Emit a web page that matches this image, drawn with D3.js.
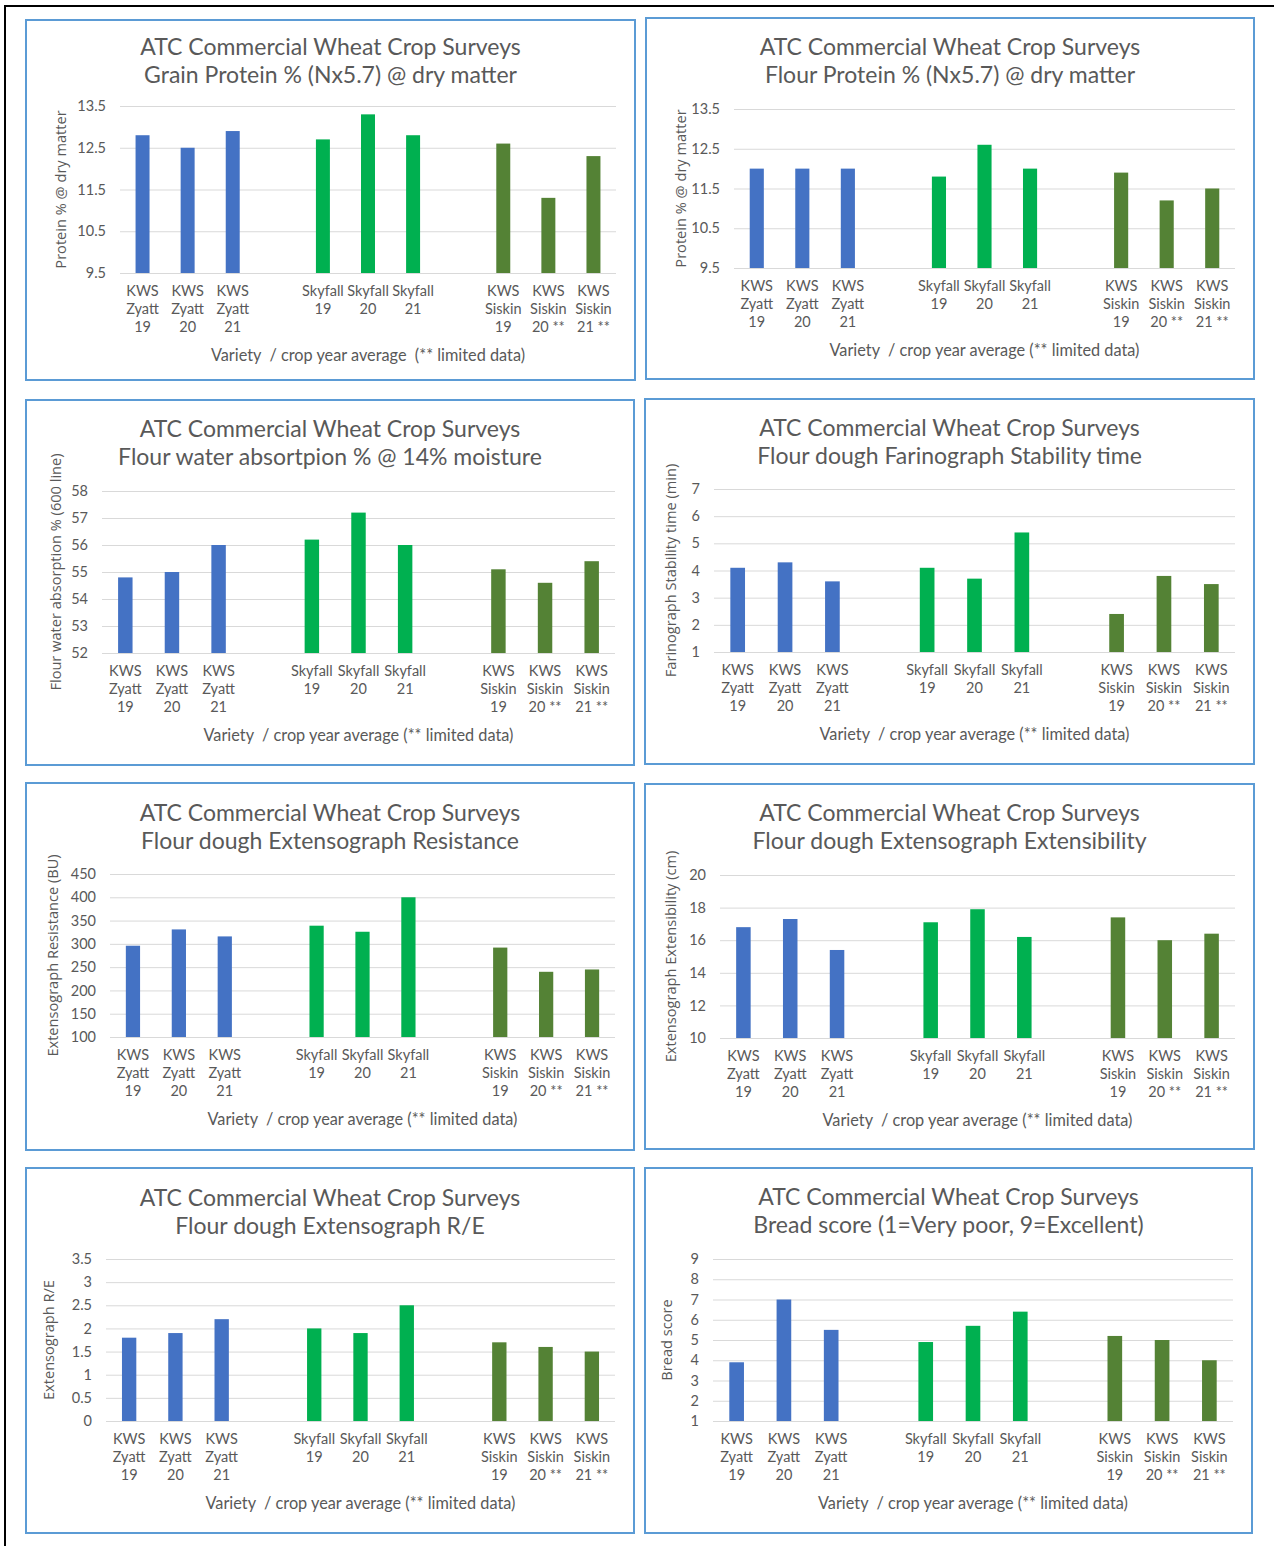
<!DOCTYPE html>
<html lang="en">
<head>
    <meta charset="utf-8">
    <title>ATC Commercial Wheat Crop Surveys</title>
    <script src="https://d3js.org/d3.v7.min.js"></script>
    <style>
        body { margin: 0; background: #fff; }
        text { font-family: Lato, "Open Sans", sans-serif; fill: #595959; }
        .ytitle { font-family: "Open Sans", sans-serif; }
    </style>
</head>
<body>
<div id="charts"></div>
<script>
// Categories (9 bars) and the label lines under each bar
const categories = ["KWS Zyatt 19", "KWS Zyatt 20", "KWS Zyatt 21",
                    "Skyfall 19", "Skyfall 20", "Skyfall 21",
                    "KWS Siskin 19", "KWS Siskin 20 **", "KWS Siskin 21 **"];
const labelLines = [["KWS", "Zyatt", "19"], ["KWS", "Zyatt", "20"], ["KWS", "Zyatt", "21"],
                    ["Skyfall", "19"], ["Skyfall", "20"], ["Skyfall", "21"],
                    ["KWS", "Siskin", "19"], ["KWS", "Siskin", "20 **"], ["KWS", "Siskin", "21 **"]];
// x slots including the two empty gaps between varieties
const slots = ["KWS Zyatt 19", "KWS Zyatt 20", "KWS Zyatt 21", "gap1",
               "Skyfall 19", "Skyfall 20", "Skyfall 21", "gap2",
               "KWS Siskin 19", "KWS Siskin 20 **", "KWS Siskin 21 **"];
const varietyOf = ["Zyatt", "Zyatt", "Zyatt", "Skyfall", "Skyfall", "Skyfall", "Siskin", "Siskin", "Siskin"];

// series values
const grainProtein  = [12.8, 12.5, 12.9, 12.7, 13.3, 12.8, 12.6, 11.3, 12.3];
const flourProtein  = [12.0, 12.0, 12.0, 11.8, 12.6, 12.0, 11.9, 11.2, 11.5];
const waterAbs      = [54.8, 55.0, 56.0, 56.2, 57.2, 56.0, 55.1, 54.6, 55.4];
const stability     = [4.1, 4.3, 3.6, 4.1, 3.7, 5.4, 2.4, 3.8, 3.5];
const resistance    = [296, 331, 316, 339, 326, 400, 292, 240, 245];
const extensibility = [16.8, 17.3, 15.4, 17.1, 17.9, 16.2, 17.4, 16.0, 16.4];
const ratioRE       = [1.8, 1.9, 2.2, 2.0, 1.9, 2.5, 1.7, 1.6, 1.5];
const breadScore    = [3.9, 7.0, 5.5, 4.9, 5.7, 6.4, 5.2, 5.0, 4.0];

// y tick labels per chart
const ticksProtein = [9.5, 10.5, 11.5, 12.5, 13.5];
const ticksWater   = [52, 53, 54, 55, 56, 57, 58];
const ticksStab    = [1, 2, 3, 4, 5, 6, 7];
const ticksResist  = [100, 150, 200, 250, 300, 350, 400, 450];
const ticksExt     = [10, 12, 14, 16, 18, 20];
const ticksRE      = [0, 0.5, 1, 1.5, 2, 2.5, 3, 3.5];
const ticksBread   = [1, 2, 3, 4, 5, 6, 7, 8, 9];

const mainTitle = "ATC Commercial Wheat Crop Surveys";
const subTitles = ["Grain Protein % (Nx5.7) @ dry matter",
                   "Flour Protein % (Nx5.7) @ dry matter",
                   "Flour water absortpion % @ 14% moisture",
                   "Flour dough Farinograph Stability time",
                   "Flour dough Extensograph Resistance",
                   "Flour dough Extensograph Extensibility",
                   "Flour dough Extensograph R/E",
                   "Bread score (1=Very poor, 9=Excellent)"];
const yTitles = ["Protein % @ dry matter", "Protein % @ dry matter",
                 "Flour water absorption % (600 line)", "Farinograph Stability time (min)",
                 "Extensograph Resistance (BU)", "Extensograph Extensibility (cm)",
                 "Extensograph R/E", "Bread score"];
const xTitles = ["Variety  / crop year average  (** limited data)",
                 "Variety  / crop year average (** limited data)"];

const colors = {Zyatt: "#4472C4", Skyfall: "#00B050", Siskin: "#548235"};

// chart list built from the arrays above
const charts = [
    {values: grainProtein,  ticks: ticksProtein, sub: 0, xt: 0},
    {values: flourProtein,  ticks: ticksProtein, sub: 1, xt: 1},
    {values: waterAbs,      ticks: ticksWater,   sub: 2, xt: 1},
    {values: stability,     ticks: ticksStab,    sub: 3, xt: 1},
    {values: resistance,    ticks: ticksResist,  sub: 4, xt: 1},
    {values: extensibility, ticks: ticksExt,     sub: 5, xt: 1},
    {values: ratioRE,       ticks: ticksRE,      sub: 6, xt: 1},
    {values: breadScore,    ticks: ticksBread,   sub: 7, xt: 1}
];

// panel placement on the page
const panels = [
    {x: 26,  y: 20,   w: 609, h: 360, left: 94, top: 86, bottom: 253, ytx: 34, tt: 26},
    {x: 646, y: 18,   w: 608, h: 361, left: 88, top: 91, bottom: 250, ytx: 34, tt: 28},
    {x: 26,  y: 400,  w: 608, h: 365, left: 76, top: 91, bottom: 253, ytx: 29, tt: 28},
    {x: 645, y: 399,  w: 609, h: 365, left: 69, top: 90, bottom: 253, ytx: 25, tt: 28},
    {x: 26,  y: 783,  w: 608, h: 367, left: 84, top: 91, bottom: 254, ytx: 26, tt: 29},
    {x: 645, y: 784,  w: 609, h: 365, left: 75, top: 91, bottom: 254, ytx: 25, tt: 28},
    {x: 26,  y: 1168, w: 608, h: 365, left: 80, top: 91, bottom: 253, ytx: 22, tt: 29},
    {x: 645, y: 1168, w: 607, h: 365, left: 68, top: 91, bottom: 253, ytx: 21, tt: 28}
];

let svg = d3.select("#charts")
            .append("svg")
            .attr("width", 1274)
            .attr("height", 1546)
            .style("display", "block");

// outer black frame (only top and left edges are visible)
svg.append("rect")
    .attr("x", 5).attr("y", 6)
    .attr("width", 1400).attr("height", 1700)
    .attr("fill", "none")
    .attr("stroke", "#000")
    .attr("stroke-width", 2);

charts.forEach(function(c, i) {
    drawChart(svg, c, panels[i]);
});

function drawChart(svg, c, p) {
    let g = svg.append("g").attr("transform", "translate(" + p.x + "," + p.y + ")");

    g.append("rect")
        .attr("width", p.w).attr("height", p.h)
        .attr("fill", "#fff")
        .attr("stroke", "#5B9BD5")
        .attr("stroke-width", 2);

    // titles
    g.append("text")
        .attr("x", p.w / 2).attr("y", p.tt)
        .attr("text-anchor", "middle").attr("dominant-baseline", "central")
        .style("font-size", "23px")
        .text(mainTitle);
    g.append("text")
        .attr("x", p.w / 2).attr("y", p.tt + 28)
        .attr("text-anchor", "middle").attr("dominant-baseline", "central")
        .style("font-size", "23px")
        .text(subTitles[c.sub]);

    let right = p.w - 19;

    let xScale = d3.scaleBand()
                    .domain(slots)
                    .range([p.left, right])
                    .paddingInner(0.69)
                    .paddingOuter(0.345);

    let yScale = d3.scaleLinear()
                    .domain(d3.extent(c.ticks))
                    .range([p.bottom, p.top]);

    // gridlines + tick labels via axisLeft
    let yAxis = d3.axisLeft(yScale)
                    .tickValues(c.ticks)
                    .tickSize(-(right - p.left))
                    .tickPadding(14)
                    .tickFormat(function(d) { return String(d); });

    let ay = g.append("g")
        .attr("transform", "translate(" + p.left + ",0)")
        .call(yAxis);
    ay.select(".domain").remove();
    ay.selectAll(".tick line").attr("stroke", "#D9D9D9").attr("stroke-width", 1);
    ay.selectAll(".tick text")
        .style("font-size", "14.5px")
        .style("font-family", "Lato, sans-serif")
        .attr("fill", "#595959");

    // bars
    g.selectAll(".bar")
        .data(categories)
        .enter()
        .append("rect")
        .attr("class", "bar")
        .attr("x", function(d) { return xScale(d); })
        .attr("width", xScale.bandwidth())
        .attr("y", function(d, i) { return yScale(c.values[i]); })
        .attr("height", function(d, i) { return yScale.range()[0] - yScale(c.values[i]); })
        .attr("fill", function(d, i) { return colors[varietyOf[i]]; });

    // category labels (multi-line)
    let labels = g.selectAll(".cat")
        .data(categories)
        .enter()
        .append("text")
        .attr("class", "cat")
        .attr("text-anchor", "middle")
        .style("font-size", "14.5px");
    labels.each(function(d, i) {
        let cx = xScale(d) + xScale.bandwidth() / 2;
        d3.select(this).selectAll("tspan")
            .data(labelLines[i])
            .enter()
            .append("tspan")
            .attr("x", cx)
            .attr("y", function(t, j) { return p.bottom + 23 + j * 18.2; })
            .style("white-space", "pre")
            .text(function(t) { return t; });
    });

    // x axis title
    g.append("text")
        .attr("x", (p.left + right) / 2)
        .attr("y", p.bottom + 81)
        .attr("text-anchor", "middle").attr("dominant-baseline", "central")
        .style("font-size", "16.3px")
        .style("white-space", "pre")
        .text(xTitles[c.xt]);

    // y axis title
    g.append("text")
        .attr("class", "ytitle")
        .attr("transform", "translate(" + p.ytx + "," + ((p.top + p.bottom) / 2) + ") rotate(-90)")
        .attr("text-anchor", "middle").attr("dominant-baseline", "central")
        .style("font-size", "14.6px")
        .text(yTitles[c.sub]);
}
</script>
</body>
</html>
